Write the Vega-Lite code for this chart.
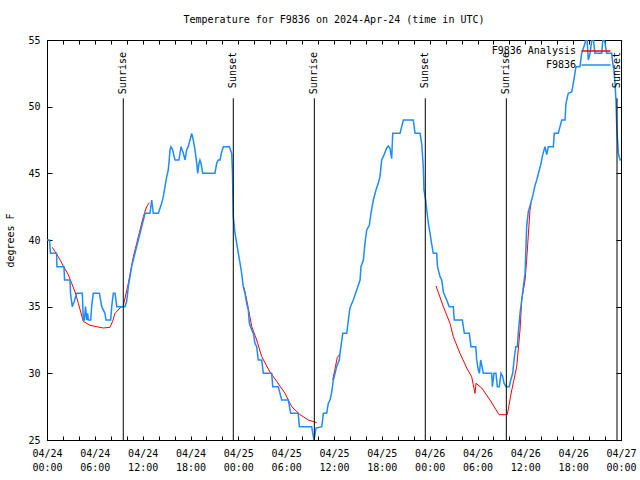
{
  "$schema": "https://vega.github.io/schema/vega-lite/v6.json",
  "width": 574,
  "height": 400,
  "autosize": {"type": "none"},
  "padding": {"left": 47, "top": 40, "right": 19, "bottom": 40},
  "background": "white",
  "title": {"text": "Temperature for F9836 on 2024-Apr-24 (time in UTC)", "font": "DejaVu Sans Mono", "fontSize": 10, "fontWeight": "normal", "anchor": "middle", "offset": 10, "color": "black"},
  "config": {
    "view": {"stroke": "black", "strokeWidth": 1},
    "font": "DejaVu Sans Mono",
    "axis": {"domainColor": "black", "tickColor": "black", "labelColor": "black", "titleColor": "black", "grid": false, "labelFont": "DejaVu Sans Mono", "labelFontSize": 10, "titleFont": "DejaVu Sans Mono", "titleFontSize": 10, "titleFontWeight": "normal"}
  },
  "datasets": {
    "obs": [
      {"t": "2024-04-24T00:00Z", "v": 40}, {"t": "2024-04-24T00:19Z", "v": 40}, {"t": "2024-04-24T00:26Z", "v": 39}, {"t": "2024-04-24T01:12Z", "v": 39},
      {"t": "2024-04-24T01:15Z", "v": 38}, {"t": "2024-04-24T02:08Z", "v": 38}, {"t": "2024-04-24T02:12Z", "v": 37}, {"t": "2024-04-24T02:53Z", "v": 37},
      {"t": "2024-04-24T02:57Z", "v": 36}, {"t": "2024-04-24T03:10Z", "v": 35}, {"t": "2024-04-24T03:25Z", "v": 35.4}, {"t": "2024-04-24T03:44Z", "v": 36},
      {"t": "2024-04-24T04:26Z", "v": 36}, {"t": "2024-04-24T04:33Z", "v": 34}, {"t": "2024-04-24T04:41Z", "v": 34}, {"t": "2024-04-24T04:50Z", "v": 35},
      {"t": "2024-04-24T04:59Z", "v": 34}, {"t": "2024-04-24T05:06Z", "v": 34.5}, {"t": "2024-04-24T05:11Z", "v": 34}, {"t": "2024-04-24T05:29Z", "v": 34},
      {"t": "2024-04-24T05:36Z", "v": 35}, {"t": "2024-04-24T05:48Z", "v": 36}, {"t": "2024-04-24T06:34Z", "v": 36}, {"t": "2024-04-24T06:52Z", "v": 35},
      {"t": "2024-04-24T07:16Z", "v": 34.5}, {"t": "2024-04-24T07:24Z", "v": 34}, {"t": "2024-04-24T07:59Z", "v": 34}, {"t": "2024-04-24T08:07Z", "v": 35},
      {"t": "2024-04-24T08:19Z", "v": 36}, {"t": "2024-04-24T08:32Z", "v": 36}, {"t": "2024-04-24T08:45Z", "v": 35}, {"t": "2024-04-24T09:47Z", "v": 35},
      {"t": "2024-04-24T10:00Z", "v": 35.4}, {"t": "2024-04-24T10:12Z", "v": 36.5}, {"t": "2024-04-24T10:37Z", "v": 38}, {"t": "2024-04-24T11:02Z", "v": 39},
      {"t": "2024-04-24T11:27Z", "v": 40}, {"t": "2024-04-24T11:53Z", "v": 41}, {"t": "2024-04-24T12:18Z", "v": 42}, {"t": "2024-04-24T12:55Z", "v": 42},
      {"t": "2024-04-24T13:08Z", "v": 43}, {"t": "2024-04-24T13:20Z", "v": 42}, {"t": "2024-04-24T13:58Z", "v": 42}, {"t": "2024-04-24T14:23Z", "v": 42.75},
      {"t": "2024-04-24T14:35Z", "v": 43.25}, {"t": "2024-04-24T14:48Z", "v": 44}, {"t": "2024-04-24T15:01Z", "v": 44.75}, {"t": "2024-04-24T15:13Z", "v": 45.25},
      {"t": "2024-04-24T15:26Z", "v": 46.75}, {"t": "2024-04-24T15:33Z", "v": 47}, {"t": "2024-04-24T15:46Z", "v": 46.75}, {"t": "2024-04-24T16:03Z", "v": 46},
      {"t": "2024-04-24T16:33Z", "v": 46}, {"t": "2024-04-24T16:49Z", "v": 47}, {"t": "2024-04-24T17:06Z", "v": 46.5}, {"t": "2024-04-24T17:19Z", "v": 46},
      {"t": "2024-04-24T17:31Z", "v": 46.75}, {"t": "2024-04-24T17:43Z", "v": 47}, {"t": "2024-04-24T17:56Z", "v": 47.5}, {"t": "2024-04-24T18:09Z", "v": 48},
      {"t": "2024-04-24T18:21Z", "v": 47.5}, {"t": "2024-04-24T18:34Z", "v": 46.75}, {"t": "2024-04-24T18:47Z", "v": 45.75}, {"t": "2024-04-24T18:54Z", "v": 45},
      {"t": "2024-04-24T19:04Z", "v": 45.75}, {"t": "2024-04-24T19:11Z", "v": 46}, {"t": "2024-04-24T19:19Z", "v": 45.75}, {"t": "2024-04-24T19:32Z", "v": 45},
      {"t": "2024-04-24T21:04Z", "v": 45}, {"t": "2024-04-24T21:17Z", "v": 45.75}, {"t": "2024-04-24T21:29Z", "v": 46}, {"t": "2024-04-24T21:42Z", "v": 46},
      {"t": "2024-04-24T21:55Z", "v": 46.6}, {"t": "2024-04-24T22:07Z", "v": 47}, {"t": "2024-04-24T22:52Z", "v": 47}, {"t": "2024-04-24T23:10Z", "v": 46.5},
      {"t": "2024-04-24T23:16Z", "v": 45}, {"t": "2024-04-24T23:22Z", "v": 41.75}, {"t": "2024-04-24T23:35Z", "v": 40.5}, {"t": "2024-04-24T23:48Z", "v": 39.75},
      {"t": "2024-04-25T00:00Z", "v": 39}, {"t": "2024-04-25T00:13Z", "v": 38.25}, {"t": "2024-04-25T00:25Z", "v": 37.5}, {"t": "2024-04-25T00:37Z", "v": 36.5},
      {"t": "2024-04-25T00:50Z", "v": 36}, {"t": "2024-04-25T01:03Z", "v": 35.25}, {"t": "2024-04-25T01:15Z", "v": 34.75}, {"t": "2024-04-25T01:23Z", "v": 33.75},
      {"t": "2024-04-25T01:41Z", "v": 33.25}, {"t": "2024-04-25T01:53Z", "v": 33}, {"t": "2024-04-25T02:05Z", "v": 32.25}, {"t": "2024-04-25T02:18Z", "v": 32},
      {"t": "2024-04-25T02:30Z", "v": 31}, {"t": "2024-04-25T02:56Z", "v": 31}, {"t": "2024-04-25T03:08Z", "v": 30}, {"t": "2024-04-25T04:11Z", "v": 30},
      {"t": "2024-04-25T04:19Z", "v": 29}, {"t": "2024-04-25T05:01Z", "v": 29}, {"t": "2024-04-25T05:26Z", "v": 28}, {"t": "2024-04-25T06:16Z", "v": 28},
      {"t": "2024-04-25T06:34Z", "v": 27}, {"t": "2024-04-25T07:31Z", "v": 27}, {"t": "2024-04-25T07:39Z", "v": 26}, {"t": "2024-04-25T09:12Z", "v": 26},
      {"t": "2024-04-25T09:20Z", "v": 25.5}, {"t": "2024-04-25T09:30Z", "v": 25}, {"t": "2024-04-25T09:45Z", "v": 25.9}, {"t": "2024-04-25T10:28Z", "v": 26},
      {"t": "2024-04-25T10:40Z", "v": 27}, {"t": "2024-04-25T11:05Z", "v": 27}, {"t": "2024-04-25T11:17Z", "v": 27.75}, {"t": "2024-04-25T11:30Z", "v": 28},
      {"t": "2024-04-25T11:43Z", "v": 28.6}, {"t": "2024-04-25T11:55Z", "v": 29.5}, {"t": "2024-04-25T12:08Z", "v": 30}, {"t": "2024-04-25T12:20Z", "v": 30.5},
      {"t": "2024-04-25T12:40Z", "v": 31}, {"t": "2024-04-25T12:45Z", "v": 31.5}, {"t": "2024-04-25T13:06Z", "v": 33}, {"t": "2024-04-25T13:36Z", "v": 33},
      {"t": "2024-04-25T13:48Z", "v": 34}, {"t": "2024-04-25T14:00Z", "v": 34.9}, {"t": "2024-04-25T14:25Z", "v": 35.5}, {"t": "2024-04-25T14:51Z", "v": 36.25},
      {"t": "2024-04-25T15:16Z", "v": 37}, {"t": "2024-04-25T15:23Z", "v": 38}, {"t": "2024-04-25T15:41Z", "v": 38.5}, {"t": "2024-04-25T15:53Z", "v": 39.75},
      {"t": "2024-04-25T16:06Z", "v": 40.75}, {"t": "2024-04-25T16:26Z", "v": 41.1}, {"t": "2024-04-25T16:38Z", "v": 42}, {"t": "2024-04-25T16:56Z", "v": 43},
      {"t": "2024-04-25T17:16Z", "v": 43.75}, {"t": "2024-04-25T17:33Z", "v": 44.25}, {"t": "2024-04-25T17:46Z", "v": 44.75}, {"t": "2024-04-25T17:59Z", "v": 46},
      {"t": "2024-04-25T18:11Z", "v": 46.25}, {"t": "2024-04-25T18:37Z", "v": 46.9}, {"t": "2024-04-25T18:49Z", "v": 47.05}, {"t": "2024-04-25T19:01Z", "v": 46.9},
      {"t": "2024-04-25T19:14Z", "v": 46.1}, {"t": "2024-04-25T19:22Z", "v": 48}, {"t": "2024-04-25T20:17Z", "v": 48}, {"t": "2024-04-25T20:42Z", "v": 49},
      {"t": "2024-04-25T21:57Z", "v": 49}, {"t": "2024-04-25T22:10Z", "v": 48}, {"t": "2024-04-25T22:47Z", "v": 48}, {"t": "2024-04-25T23:00Z", "v": 47.25},
      {"t": "2024-04-25T23:12Z", "v": 45.5}, {"t": "2024-04-25T23:17Z", "v": 43.75}, {"t": "2024-04-25T23:30Z", "v": 43}, {"t": "2024-04-25T23:38Z", "v": 42.25},
      {"t": "2024-04-25T23:50Z", "v": 41.25}, {"t": "2024-04-26T00:03Z", "v": 40.5}, {"t": "2024-04-26T00:15Z", "v": 39.7}, {"t": "2024-04-26T00:27Z", "v": 39},
      {"t": "2024-04-26T00:53Z", "v": 39}, {"t": "2024-04-26T00:59Z", "v": 38}, {"t": "2024-04-26T01:18Z", "v": 37.25}, {"t": "2024-04-26T01:31Z", "v": 37},
      {"t": "2024-04-26T01:43Z", "v": 36.1}, {"t": "2024-04-26T02:08Z", "v": 35.5}, {"t": "2024-04-26T02:28Z", "v": 35}, {"t": "2024-04-26T02:58Z", "v": 35},
      {"t": "2024-04-26T03:05Z", "v": 34}, {"t": "2024-04-26T04:06Z", "v": 34}, {"t": "2024-04-26T04:21Z", "v": 33}, {"t": "2024-04-26T04:58Z", "v": 33},
      {"t": "2024-04-26T05:11Z", "v": 32}, {"t": "2024-04-26T05:47Z", "v": 32}, {"t": "2024-04-26T05:54Z", "v": 31}, {"t": "2024-04-26T06:06Z", "v": 30.25},
      {"t": "2024-04-26T06:14Z", "v": 30}, {"t": "2024-04-26T06:24Z", "v": 31}, {"t": "2024-04-26T06:34Z", "v": 30.5}, {"t": "2024-04-26T06:44Z", "v": 30},
      {"t": "2024-04-26T07:47Z", "v": 30}, {"t": "2024-04-26T07:52Z", "v": 29}, {"t": "2024-04-26T08:04Z", "v": 30}, {"t": "2024-04-26T08:19Z", "v": 30},
      {"t": "2024-04-26T08:29Z", "v": 29}, {"t": "2024-04-26T08:44Z", "v": 29}, {"t": "2024-04-26T08:57Z", "v": 30}, {"t": "2024-04-26T09:10Z", "v": 29.75},
      {"t": "2024-04-26T09:20Z", "v": 29.25}, {"t": "2024-04-26T09:35Z", "v": 29}, {"t": "2024-04-26T09:59Z", "v": 29}, {"t": "2024-04-26T10:10Z", "v": 29.5},
      {"t": "2024-04-26T10:25Z", "v": 30}, {"t": "2024-04-26T10:35Z", "v": 31}, {"t": "2024-04-26T10:48Z", "v": 32}, {"t": "2024-04-26T11:00Z", "v": 32},
      {"t": "2024-04-26T11:07Z", "v": 33}, {"t": "2024-04-26T11:20Z", "v": 34.5}, {"t": "2024-04-26T11:33Z", "v": 35.5}, {"t": "2024-04-26T11:45Z", "v": 36.5},
      {"t": "2024-04-26T11:58Z", "v": 37.5}, {"t": "2024-04-26T12:10Z", "v": 41}, {"t": "2024-04-26T12:22Z", "v": 42.1}, {"t": "2024-04-26T12:41Z", "v": 42.75},
      {"t": "2024-04-26T13:00Z", "v": 43.5}, {"t": "2024-04-26T13:13Z", "v": 44.1}, {"t": "2024-04-26T13:26Z", "v": 44.5}, {"t": "2024-04-26T13:45Z", "v": 45.25},
      {"t": "2024-04-26T13:58Z", "v": 45.75}, {"t": "2024-04-26T14:11Z", "v": 46.4}, {"t": "2024-04-26T14:28Z", "v": 47}, {"t": "2024-04-26T14:41Z", "v": 46.4},
      {"t": "2024-04-26T14:53Z", "v": 47}, {"t": "2024-04-26T15:31Z", "v": 47}, {"t": "2024-04-26T15:38Z", "v": 48}, {"t": "2024-04-26T16:08Z", "v": 48},
      {"t": "2024-04-26T16:21Z", "v": 48.5}, {"t": "2024-04-26T16:34Z", "v": 49}, {"t": "2024-04-26T16:59Z", "v": 49}, {"t": "2024-04-26T17:06Z", "v": 50.25},
      {"t": "2024-04-26T17:23Z", "v": 51}, {"t": "2024-04-26T17:49Z", "v": 51.1}, {"t": "2024-04-26T18:01Z", "v": 51.75}, {"t": "2024-04-26T18:21Z", "v": 53},
      {"t": "2024-04-26T18:51Z", "v": 53}, {"t": "2024-04-26T19:04Z", "v": 54}, {"t": "2024-04-26T19:29Z", "v": 54.75}, {"t": "2024-04-26T19:42Z", "v": 55.5},
      {"t": "2024-04-26T19:54Z", "v": 53.5}, {"t": "2024-04-26T20:07Z", "v": 54}, {"t": "2024-04-26T20:27Z", "v": 55.5}, {"t": "2024-04-26T20:44Z", "v": 54},
      {"t": "2024-04-26T21:35Z", "v": 54}, {"t": "2024-04-26T21:47Z", "v": 55.5}, {"t": "2024-04-26T22:00Z", "v": 54.75}, {"t": "2024-04-26T22:12Z", "v": 54},
      {"t": "2024-04-26T22:50Z", "v": 54}, {"t": "2024-04-26T22:58Z", "v": 53.25}, {"t": "2024-04-26T23:07Z", "v": 52.75}, {"t": "2024-04-26T23:15Z", "v": 51.75},
      {"t": "2024-04-26T23:22Z", "v": 50.5}, {"t": "2024-04-26T23:28Z", "v": 48.5}, {"t": "2024-04-26T23:40Z", "v": 46.5}, {"t": "2024-04-26T23:53Z", "v": 46},
      {"t": "2024-04-27T00:00Z", "v": 46}
    ],
    "analysis": [
      {"t": "2024-04-24T00:40Z", "v": 39.45, "seg": "A"}, {"t": "2024-04-24T01:25Z", "v": 38.75, "seg": "A"}, {"t": "2024-04-24T02:03Z", "v": 38.05, "seg": "A"},
      {"t": "2024-04-24T02:40Z", "v": 37.4, "seg": "A"}, {"t": "2024-04-24T03:06Z", "v": 36.75, "seg": "A"}, {"t": "2024-04-24T03:31Z", "v": 36.1, "seg": "A"},
      {"t": "2024-04-24T03:56Z", "v": 35.25, "seg": "A"}, {"t": "2024-04-24T04:14Z", "v": 34.6, "seg": "A"}, {"t": "2024-04-24T04:33Z", "v": 33.9, "seg": "A"},
      {"t": "2024-04-24T05:24Z", "v": 33.6, "seg": "A"}, {"t": "2024-04-24T06:14Z", "v": 33.5, "seg": "A"}, {"t": "2024-04-24T07:04Z", "v": 33.4, "seg": "A"},
      {"t": "2024-04-24T07:54Z", "v": 33.45, "seg": "A"}, {"t": "2024-04-24T08:14Z", "v": 33.9, "seg": "A"}, {"t": "2024-04-24T08:32Z", "v": 34.5, "seg": "A"},
      {"t": "2024-04-24T09:09Z", "v": 34.9, "seg": "A"}, {"t": "2024-04-24T09:34Z", "v": 35.05, "seg": "A"}, {"t": "2024-04-24T10:12Z", "v": 36.75, "seg": "A"},
      {"t": "2024-04-24T10:50Z", "v": 38.75, "seg": "A"}, {"t": "2024-04-24T11:15Z", "v": 39.75, "seg": "A"}, {"t": "2024-04-24T11:40Z", "v": 40.75, "seg": "A"},
      {"t": "2024-04-24T12:05Z", "v": 41.75, "seg": "A"}, {"t": "2024-04-24T12:30Z", "v": 42.5, "seg": "A"}, {"t": "2024-04-24T12:50Z", "v": 42.8, "seg": "A"},
      {"t": "2024-04-25T00:43Z", "v": 36.45, "seg": "B"}, {"t": "2024-04-25T01:03Z", "v": 35.5, "seg": "B"}, {"t": "2024-04-25T01:41Z", "v": 33.5, "seg": "B"},
      {"t": "2024-04-25T02:18Z", "v": 32.5, "seg": "B"}, {"t": "2024-04-25T02:56Z", "v": 31.25, "seg": "B"}, {"t": "2024-04-25T03:58Z", "v": 30.1, "seg": "B"},
      {"t": "2024-04-25T04:49Z", "v": 29.4, "seg": "B"}, {"t": "2024-04-25T05:51Z", "v": 28.5, "seg": "B"}, {"t": "2024-04-25T06:42Z", "v": 27.5, "seg": "B"},
      {"t": "2024-04-25T07:44Z", "v": 26.9, "seg": "B"}, {"t": "2024-04-25T08:47Z", "v": 26.5, "seg": "B"}, {"t": "2024-04-25T09:50Z", "v": 26.3, "seg": "B"},
      {"t": "2024-04-25T11:50Z", "v": 29.5, "seg": "C"}, {"t": "2024-04-25T12:05Z", "v": 30.2, "seg": "C"}, {"t": "2024-04-25T12:25Z", "v": 31.2, "seg": "C"},
      {"t": "2024-04-25T12:45Z", "v": 31.45, "seg": "C"},
      {"t": "2024-04-26T00:48Z", "v": 36.55, "seg": "D"}, {"t": "2024-04-26T01:43Z", "v": 35.0, "seg": "D"}, {"t": "2024-04-26T02:33Z", "v": 33.75, "seg": "D"},
      {"t": "2024-04-26T02:58Z", "v": 32.75, "seg": "D"}, {"t": "2024-04-26T03:48Z", "v": 31.5, "seg": "D"}, {"t": "2024-04-26T04:39Z", "v": 30.4, "seg": "D"},
      {"t": "2024-04-26T05:16Z", "v": 29.75, "seg": "D"}, {"t": "2024-04-26T05:41Z", "v": 28.5, "seg": "D"}, {"t": "2024-04-26T05:49Z", "v": 29.25, "seg": "D"},
      {"t": "2024-04-26T06:32Z", "v": 28.9, "seg": "D"}, {"t": "2024-04-26T07:34Z", "v": 28.0, "seg": "D"}, {"t": "2024-04-26T08:42Z", "v": 26.9, "seg": "D"},
      {"t": "2024-04-26T09:44Z", "v": 26.9, "seg": "D"}, {"t": "2024-04-26T10:18Z", "v": 28.75, "seg": "D"}, {"t": "2024-04-26T10:55Z", "v": 30.5, "seg": "D"},
      {"t": "2024-04-26T11:20Z", "v": 33.25, "seg": "D"}, {"t": "2024-04-26T11:33Z", "v": 35.5, "seg": "D"}, {"t": "2024-04-26T11:58Z", "v": 37.0, "seg": "D"},
      {"t": "2024-04-26T12:10Z", "v": 38.5, "seg": "D"}, {"t": "2024-04-26T12:35Z", "v": 42.25, "seg": "D"}, {"t": "2024-04-26T12:43Z", "v": 42.75, "seg": "D"}
    ],
    "sun": [
      {"t": "2024-04-24T09:34Z", "label": "Sunrise"}, {"t": "2024-04-24T23:22Z", "label": "Sunset"},
      {"t": "2024-04-25T09:32Z", "label": "Sunrise"}, {"t": "2024-04-25T23:27Z", "label": "Sunset"},
      {"t": "2024-04-26T09:37Z", "label": "Sunrise"}, {"t": "2024-04-26T23:30Z", "label": "Sunset"}
    ]
  },
  "layer": [
    {
      "data": {"name": "analysis"},
      "mark": {"type": "line", "strokeWidth": 1, "clip": true},
      "encoding": {
        "x": {"field": "t", "type": "temporal",
          "scale": {"type": "utc", "nice": false, "domain": [{"year": 2024, "month": 4, "date": 24, "utc": true}, {"year": 2024, "month": 4, "date": 27, "utc": true}]},
          "axis": {"orient": "bottom", "title": null, "labels": false, "tickSize": -4,
            "values": [
              {"year": 2024, "month": 4, "date": 24, "hours": 0, "utc": true}, {"year": 2024, "month": 4, "date": 24, "hours": 2, "utc": true}, {"year": 2024, "month": 4, "date": 24, "hours": 4, "utc": true},
              {"year": 2024, "month": 4, "date": 24, "hours": 6, "utc": true}, {"year": 2024, "month": 4, "date": 24, "hours": 8, "utc": true}, {"year": 2024, "month": 4, "date": 24, "hours": 10, "utc": true},
              {"year": 2024, "month": 4, "date": 24, "hours": 12, "utc": true}, {"year": 2024, "month": 4, "date": 24, "hours": 14, "utc": true}, {"year": 2024, "month": 4, "date": 24, "hours": 16, "utc": true},
              {"year": 2024, "month": 4, "date": 24, "hours": 18, "utc": true}, {"year": 2024, "month": 4, "date": 24, "hours": 20, "utc": true}, {"year": 2024, "month": 4, "date": 24, "hours": 22, "utc": true},
              {"year": 2024, "month": 4, "date": 25, "hours": 0, "utc": true}, {"year": 2024, "month": 4, "date": 25, "hours": 2, "utc": true}, {"year": 2024, "month": 4, "date": 25, "hours": 4, "utc": true},
              {"year": 2024, "month": 4, "date": 25, "hours": 6, "utc": true}, {"year": 2024, "month": 4, "date": 25, "hours": 8, "utc": true}, {"year": 2024, "month": 4, "date": 25, "hours": 10, "utc": true},
              {"year": 2024, "month": 4, "date": 25, "hours": 12, "utc": true}, {"year": 2024, "month": 4, "date": 25, "hours": 14, "utc": true}, {"year": 2024, "month": 4, "date": 25, "hours": 16, "utc": true},
              {"year": 2024, "month": 4, "date": 25, "hours": 18, "utc": true}, {"year": 2024, "month": 4, "date": 25, "hours": 20, "utc": true}, {"year": 2024, "month": 4, "date": 25, "hours": 22, "utc": true},
              {"year": 2024, "month": 4, "date": 26, "hours": 0, "utc": true}, {"year": 2024, "month": 4, "date": 26, "hours": 2, "utc": true}, {"year": 2024, "month": 4, "date": 26, "hours": 4, "utc": true},
              {"year": 2024, "month": 4, "date": 26, "hours": 6, "utc": true}, {"year": 2024, "month": 4, "date": 26, "hours": 8, "utc": true}, {"year": 2024, "month": 4, "date": 26, "hours": 10, "utc": true},
              {"year": 2024, "month": 4, "date": 26, "hours": 12, "utc": true}, {"year": 2024, "month": 4, "date": 26, "hours": 14, "utc": true}, {"year": 2024, "month": 4, "date": 26, "hours": 16, "utc": true},
              {"year": 2024, "month": 4, "date": 26, "hours": 18, "utc": true}, {"year": 2024, "month": 4, "date": 26, "hours": 20, "utc": true}, {"year": 2024, "month": 4, "date": 26, "hours": 22, "utc": true},
              {"year": 2024, "month": 4, "date": 27, "hours": 0, "utc": true}
            ]}},
        "y": {"field": "v", "type": "quantitative",
          "scale": {"domain": [25, 55], "nice": false, "zero": false},
          "axis": {"orient": "left", "title": "degrees F", "values": [25, 30, 35, 40, 45, 50, 55], "tickSize": -5, "labelPadding": 12, "titleX": -37, "titleY": 200, "titleAngle": 270, "titleBaseline": "middle", "titleAlign": "center"}},
        "detail": {"field": "seg", "type": "nominal"},
        "color": {"datum": "F9836 Analysis",
          "scale": {"domain": ["F9836 Analysis", "F9836"], "range": ["#ff0000", "#1e8cff"]},
          "legend": {"orient": "none", "legendX": 543, "legendY": 5, "title": null, "symbolType": "M-2.9,0H2.9", "symbolSize": 100, "symbolStrokeWidth": 1.5, "labelAlign": "right", "labelOffset": -26, "labelFont": "DejaVu Sans Mono", "labelFontSize": 10, "labelColor": "black", "rowPadding": 3, "labelBaseline": "middle"}}
      }
    },
    {
      "data": {"name": "obs"},
      "mark": {"type": "line", "strokeWidth": 1.5, "clip": true},
      "encoding": {
        "x": {"field": "t", "type": "temporal",
          "axis": {"orient": "top", "title": null, "labels": false, "tickSize": -4,
            "values": [
              {"year": 2024, "month": 4, "date": 24, "hours": 0, "utc": true}, {"year": 2024, "month": 4, "date": 24, "hours": 2, "utc": true}, {"year": 2024, "month": 4, "date": 24, "hours": 4, "utc": true},
              {"year": 2024, "month": 4, "date": 24, "hours": 6, "utc": true}, {"year": 2024, "month": 4, "date": 24, "hours": 8, "utc": true}, {"year": 2024, "month": 4, "date": 24, "hours": 10, "utc": true},
              {"year": 2024, "month": 4, "date": 24, "hours": 12, "utc": true}, {"year": 2024, "month": 4, "date": 24, "hours": 14, "utc": true}, {"year": 2024, "month": 4, "date": 24, "hours": 16, "utc": true},
              {"year": 2024, "month": 4, "date": 24, "hours": 18, "utc": true}, {"year": 2024, "month": 4, "date": 24, "hours": 20, "utc": true}, {"year": 2024, "month": 4, "date": 24, "hours": 22, "utc": true},
              {"year": 2024, "month": 4, "date": 25, "hours": 0, "utc": true}, {"year": 2024, "month": 4, "date": 25, "hours": 2, "utc": true}, {"year": 2024, "month": 4, "date": 25, "hours": 4, "utc": true},
              {"year": 2024, "month": 4, "date": 25, "hours": 6, "utc": true}, {"year": 2024, "month": 4, "date": 25, "hours": 8, "utc": true}, {"year": 2024, "month": 4, "date": 25, "hours": 10, "utc": true},
              {"year": 2024, "month": 4, "date": 25, "hours": 12, "utc": true}, {"year": 2024, "month": 4, "date": 25, "hours": 14, "utc": true}, {"year": 2024, "month": 4, "date": 25, "hours": 16, "utc": true},
              {"year": 2024, "month": 4, "date": 25, "hours": 18, "utc": true}, {"year": 2024, "month": 4, "date": 25, "hours": 20, "utc": true}, {"year": 2024, "month": 4, "date": 25, "hours": 22, "utc": true},
              {"year": 2024, "month": 4, "date": 26, "hours": 0, "utc": true}, {"year": 2024, "month": 4, "date": 26, "hours": 2, "utc": true}, {"year": 2024, "month": 4, "date": 26, "hours": 4, "utc": true},
              {"year": 2024, "month": 4, "date": 26, "hours": 6, "utc": true}, {"year": 2024, "month": 4, "date": 26, "hours": 8, "utc": true}, {"year": 2024, "month": 4, "date": 26, "hours": 10, "utc": true},
              {"year": 2024, "month": 4, "date": 26, "hours": 12, "utc": true}, {"year": 2024, "month": 4, "date": 26, "hours": 14, "utc": true}, {"year": 2024, "month": 4, "date": 26, "hours": 16, "utc": true},
              {"year": 2024, "month": 4, "date": 26, "hours": 18, "utc": true}, {"year": 2024, "month": 4, "date": 26, "hours": 20, "utc": true}, {"year": 2024, "month": 4, "date": 26, "hours": 22, "utc": true},
              {"year": 2024, "month": 4, "date": 27, "hours": 0, "utc": true}
            ]}},
        "y": {"field": "v", "type": "quantitative",
          "axis": {"orient": "right", "title": null, "labels": false, "values": [25, 30, 35, 40, 45, 50, 55], "tickSize": -5}},
        "color": {"datum": "F9836"}
      }
    },
    {
      "data": {"name": "sun"},
      "mark": {"type": "rule", "color": "black", "strokeWidth": 1},
      "encoding": {
        "x": {"field": "t", "type": "temporal",
          "axis": {"orient": "bottom", "title": null, "format": "%m/%d", "ticks": false, "domain": false, "labelPadding": 8, "labelBaseline": "top", "labelOverlap": false, "labelFlush": false,
            "values": [
              {"year": 2024, "month": 4, "date": 24, "hours": 0, "utc": true}, {"year": 2024, "month": 4, "date": 24, "hours": 6, "utc": true}, {"year": 2024, "month": 4, "date": 24, "hours": 12, "utc": true}, {"year": 2024, "month": 4, "date": 24, "hours": 18, "utc": true},
              {"year": 2024, "month": 4, "date": 25, "hours": 0, "utc": true}, {"year": 2024, "month": 4, "date": 25, "hours": 6, "utc": true}, {"year": 2024, "month": 4, "date": 25, "hours": 12, "utc": true}, {"year": 2024, "month": 4, "date": 25, "hours": 18, "utc": true},
              {"year": 2024, "month": 4, "date": 26, "hours": 0, "utc": true}, {"year": 2024, "month": 4, "date": 26, "hours": 6, "utc": true}, {"year": 2024, "month": 4, "date": 26, "hours": 12, "utc": true}, {"year": 2024, "month": 4, "date": 26, "hours": 18, "utc": true},
              {"year": 2024, "month": 4, "date": 27, "hours": 0, "utc": true}
            ]}},
        "y": {"datum": 50.63, "type": "quantitative", "axis": null},
        "y2": {"datum": 25}
      }
    },
    {
      "data": {"name": "sun"},
      "mark": {"type": "text", "angle": 270, "align": "right", "baseline": "middle", "font": "DejaVu Sans Mono", "fontSize": 10, "color": "black"},
      "encoding": {
        "x": {"field": "t", "type": "temporal",
          "axis": {"orient": "bottom", "title": null, "format": "%H:%M", "ticks": false, "domain": false, "labelPadding": 22, "labelBaseline": "top", "labelOverlap": false, "labelFlush": false,
            "values": [
              {"year": 2024, "month": 4, "date": 24, "hours": 0, "utc": true}, {"year": 2024, "month": 4, "date": 24, "hours": 6, "utc": true}, {"year": 2024, "month": 4, "date": 24, "hours": 12, "utc": true}, {"year": 2024, "month": 4, "date": 24, "hours": 18, "utc": true},
              {"year": 2024, "month": 4, "date": 25, "hours": 0, "utc": true}, {"year": 2024, "month": 4, "date": 25, "hours": 6, "utc": true}, {"year": 2024, "month": 4, "date": 25, "hours": 12, "utc": true}, {"year": 2024, "month": 4, "date": 25, "hours": 18, "utc": true},
              {"year": 2024, "month": 4, "date": 26, "hours": 0, "utc": true}, {"year": 2024, "month": 4, "date": 26, "hours": 6, "utc": true}, {"year": 2024, "month": 4, "date": 26, "hours": 12, "utc": true}, {"year": 2024, "month": 4, "date": 26, "hours": 18, "utc": true},
              {"year": 2024, "month": 4, "date": 27, "hours": 0, "utc": true}
            ]}},
        "y": {"datum": 54.1, "type": "quantitative", "axis": null},
        "text": {"field": "label"}
      }
    }
  ],
  "resolve": {"axis": {"x": "independent", "y": "independent"}}
}
